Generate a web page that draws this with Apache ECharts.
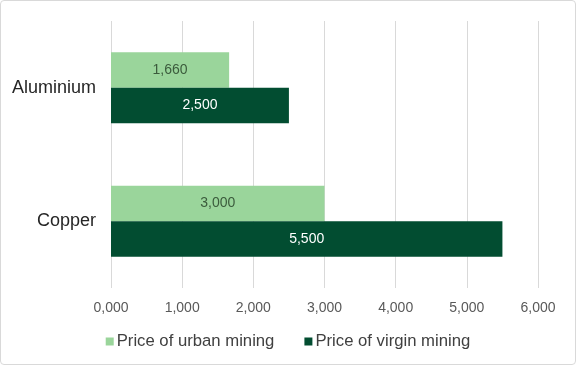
<!DOCTYPE html>
<html>
<head>
<meta charset="utf-8">
<script src="https://cdn.jsdelivr.net/npm/echarts@6/dist/echarts.min.js"></script>
<style>
html,body{margin:0;padding:0;background:#fff;}
#c{width:576px;height:365px;box-sizing:border-box;border:1px solid #d9d9d9;border-radius:4px;}
</style>
</head>
<body>
<div id="c"></div>
<script>
var categories = ['Aluminium', 'Copper'];
var urbanValues = [1660, 3000];
var virginValues = [2500, 5500];
var seriesNames = ['Price of urban mining', 'Price of virgin mining'];

function fmt(v) {
  if (v === 0) return '0,000';
  return Number(v).toLocaleString('en-US');
}

var chart = echarts.init(document.getElementById('c'), null, {renderer: 'canvas'});
chart.setOption({
  animation: false,
  textStyle: {fontFamily: 'Liberation Sans, Arial, sans-serif'},
  grid: {left: 110, right: 37, top: 20, bottom: 76, containLabel: false},
  legend: {
    data: seriesNames,
    bottom: 9,
    left: 'center',
    itemWidth: 8,
    itemHeight: 8,
    itemGap: 30,
    icon: 'rect',
    textStyle: {fontSize: 16.7, color: '#404040', fontFamily: 'Liberation Sans, Arial, sans-serif', padding: [0, 0, 0, -2]}
  },
  xAxis: {
    type: 'value',
    min: 0,
    max: 6000,
    interval: 1000,
    axisLine: {show: false},
    axisTick: {show: false},
    axisLabel: {formatter: fmt, fontSize: 14, color: '#595959', margin: 13},
    splitLine: {show: true, lineStyle: {color: '#d9d9d9', width: 1}}
  },
  yAxis: {
    type: 'category',
    data: categories,
    inverse: true,
    axisLine: {show: false},
    axisTick: {show: false},
    axisLabel: {fontSize: 18, color: '#262626', margin: 15}
  },
  series: [
    {
      name: seriesNames[0],
      type: 'bar',
      data: urbanValues,
      barGap: '0%',
      barCategoryGap: '47%',
      itemStyle: {color: '#9ad59b'},
      label: {show: true, position: 'inside', formatter: function(p){return fmt(p.value);}, color: '#3b5b3c', fontSize: 14}
    },
    {
      name: seriesNames[1],
      type: 'bar',
      data: virginValues,
      barGap: '0%',
      barCategoryGap: '47%',
      itemStyle: {color: '#024d31'},
      label: {show: true, position: 'inside', formatter: function(p){return fmt(p.value);}, color: '#ffffff', fontSize: 14}
    }
  ]
});
</script>
</body>
</html>
